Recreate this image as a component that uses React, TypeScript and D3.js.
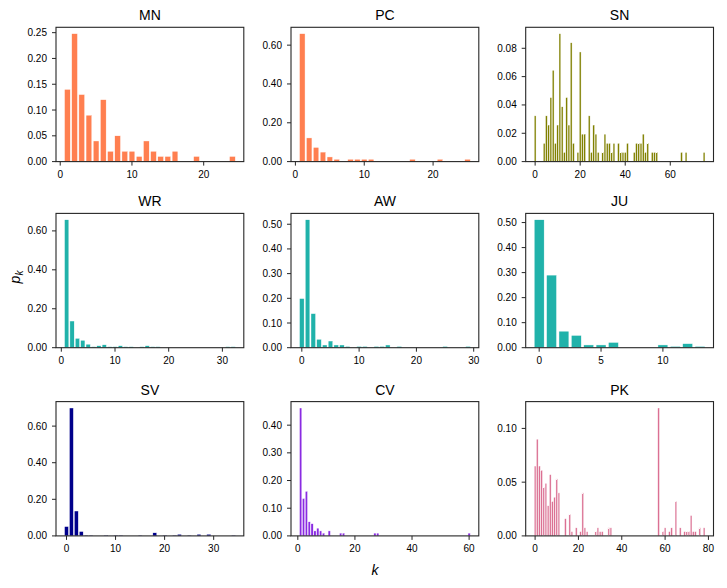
import React from "react";
import * as d3 from "d3";

// ---------- data ----------
const MN_k = [1, 2, 3, 4, 5, 6, 7, 8, 9, 10, 11, 12, 13, 14, 15, 16, 19, 24];
const MN_p = [0.14, 0.248, 0.13, 0.09, 0.04, 0.12, 0.02, 0.05, 0.02, 0.02, 0.01, 0.04, 0.02, 0.01, 0.01, 0.02, 0.01, 0.01];

const PC_k = [1, 2, 3, 4, 5, 6, 8, 9, 10, 11, 17, 21, 25];
const PC_p = [0.659, 0.122, 0.073, 0.049, 0.024, 0.012, 0.012, 0.012, 0.012, 0.012, 0.012, 0.012, 0.012];

const SN_k = [0, 4, 5, 6, 7, 8, 9, 10, 11, 12, 13, 14, 15, 16, 17, 19, 20, 21, 22, 24, 25, 26, 27, 28, 30, 31, 32, 33, 34, 35, 37, 38, 39, 40, 41, 44, 45, 46, 47, 48, 49, 50, 52, 53, 54, 65, 67, 75];
const SN_p = [0.0323, 0.0129, 0.0323, 0.0258, 0.0452, 0.0645, 0.0129, 0.0258, 0.0903, 0.0387, 0.0065, 0.0452, 0.0258, 0.0839, 0.0129, 0.0065, 0.0774, 0.0194, 0.0194, 0.0323, 0.0065, 0.0258, 0.0194, 0.0065, 0.0065, 0.0194, 0.0129, 0.0129, 0.0065, 0.0129, 0.0129, 0.0065, 0.0065, 0.0065, 0.0129, 0.0065, 0.0129, 0.0129, 0.0129, 0.0194, 0.0065, 0.0129, 0.0065, 0.0065, 0.0065, 0.0065, 0.0065, 0.0065];

const WR_k = [1, 2, 3, 4, 5, 6, 7, 8, 9, 10, 11, 12, 13, 15, 16, 17, 18, 31, 32];
const WR_p = [0.657, 0.137, 0.048, 0.038, 0.018, 0.005, 0.01, 0.015, 0.005, 0.005, 0.01, 0.005, 0.005, 0.005, 0.01, 0.005, 0.005, 0.005, 0.005];

const AW_k = [0, 1, 2, 3, 4, 5, 6, 7, 8, 10, 11, 13, 14, 15, 17, 25, 29];
const AW_p = [0.199, 0.518, 0.138, 0.034, 0.011, 0.027, 0.011, 0.011, 0.005, 0.005, 0.005, 0.005, 0.005, 0.011, 0.005, 0.005, 0.005];

const JU_k = [0, 1, 2, 3, 4, 5, 6, 10, 11, 12, 13];
const JU_p = [0.511, 0.29, 0.066, 0.049, 0.011, 0.011, 0.021, 0.011, 0.005, 0.016, 0.005];

const SV_k = [0, 1, 2, 3, 4, 5, 8, 10, 11, 15, 18, 20, 22, 23, 25, 27, 29, 34];
const SV_p = [0.051, 0.699, 0.136, 0.024, 0.004, 0.004, 0.004, 0.004, 0.004, 0.004, 0.017, 0.004, 0.004, 0.009, 0.004, 0.009, 0.009, 0.004];

const CV_k = [1, 2, 3, 4, 5, 6, 7, 8, 9, 11, 15, 16, 27, 28, 60];
const CV_p = [0.462, 0.135, 0.161, 0.051, 0.044, 0.018, 0.028, 0.018, 0.01, 0.018, 0.01, 0.01, 0.01, 0.01, 0.01];

const PK_k = [0, 1, 2, 3, 4, 5, 6, 7, 8, 9, 10, 11, 14, 16, 17, 19, 21, 22, 23, 24, 28, 29, 30, 31, 34, 35, 57, 59, 60, 62, 63, 65, 67, 69, 70, 71, 72, 73, 74, 76, 78];
const PK_p = [0.065, 0.09, 0.065, 0.061, 0.045, 0.049, 0.028, 0.057, 0.032, 0.036, 0.053, 0.04, 0.016, 0.02, 0.004, 0.0075, 0.004, 0.04, 0.0075, 0.004, 0.004, 0.0075, 0.004, 0.004, 0.0075, 0.0075, 0.119, 0.004, 0.0075, 0.004, 0.0075, 0.032, 0.0075, 0.004, 0.004, 0.004, 0.019, 0.004, 0.004, 0.0075, 0.0075];

const MN_yt = [0, 0.05, 0.1, 0.15, 0.2, 0.25];
const PC_yt = [0, 0.2, 0.4, 0.6];
const SN_yt = [0, 0.02, 0.04, 0.06, 0.08];
const WR_yt = [0, 0.2, 0.4, 0.6];
const AW_yt = [0, 0.1, 0.2, 0.3, 0.4, 0.5];
const JU_yt = [0, 0.1, 0.2, 0.3, 0.4, 0.5];
const SV_yt = [0, 0.2, 0.4, 0.6];
const CV_yt = [0, 0.1, 0.2, 0.3, 0.4];
const PK_yt = [0, 0.05, 0.1];

const MN_xt = [0, 10, 20];
const PC_xt = [0, 10, 20];
const SN_xt = [0, 20, 40, 60];
const WR_xt = [0, 10, 20, 30];
const AW_xt = [0, 10, 20, 30];
const JU_xt = [0, 5, 10];
const SV_xt = [0, 10, 20, 30];
const CV_xt = [0, 20, 40, 60];
const PK_xt = [0, 20, 40, 60, 80];

const panels = [
  { name: "MN", k: MN_k, p: MN_p, yt: MN_yt, xt: MN_xt, color: "#FF7F50" },
  { name: "PC", k: PC_k, p: PC_p, yt: PC_yt, xt: PC_xt, color: "#FF7F50" },
  { name: "SN", k: SN_k, p: SN_p, yt: SN_yt, xt: SN_xt, color: "#808000" },
  { name: "WR", k: WR_k, p: WR_p, yt: WR_yt, xt: WR_xt, color: "#20B2AA" },
  { name: "AW", k: AW_k, p: AW_p, yt: AW_yt, xt: AW_xt, color: "#20B2AA" },
  { name: "JU", k: JU_k, p: JU_p, yt: JU_yt, xt: JU_xt, color: "#20B2AA" },
  { name: "SV", k: SV_k, p: SV_p, yt: SV_yt, xt: SV_xt, color: "#00008B" },
  { name: "CV", k: CV_k, p: CV_p, yt: CV_yt, xt: CV_xt, color: "#8A2BE2" },
  { name: "PK", k: PK_k, p: PK_p, yt: PK_yt, xt: PK_xt, color: "#DB7093" },
];

// ---------- layout ----------
const W = 727;
const H = 588;
const colLeft = [56, 291, 525.7];
const rowTop = [27.3, 213.4, 401.6];
const AW_W = 187.8;
const AH = 134.3;
const BAR_W = 0.8;
const FONT = "'Liberation Sans', Arial, Helvetica, sans-serif";
const SPINE = "#262626";

function Panel({ d, x0, y0 }: any) {
  const kmin = d3.min(d.k as number[])! - BAR_W / 2;
  const kmax = d3.max(d.k as number[])! + BAR_W / 2;
  const span = kmax - kmin;
  const xs = d3.scaleLinear().domain([kmin - 0.05 * span, kmax + 0.05 * span]).range([0, AW_W]);
  const pmax = d3.max(d.p as number[])!;
  const ys = d3.scaleLinear().domain([0, pmax * 1.05]).range([AH, 0]);
  const fmt = d3.format(".2f");
  return (
    <g transform={`translate(${x0},${y0})`}>
      <text x={AW_W / 2} y={-7} textAnchor="middle" fontSize={14} fontFamily={FONT} fill="#000">
        {d.name}
      </text>
      {d.k.map((k: number, i: number) => (
        <rect
          key={i}
          x={xs(k - BAR_W / 2)}
          y={ys(d.p[i])}
          width={xs(k + BAR_W / 2) - xs(k - BAR_W / 2)}
          height={ys(0) - ys(d.p[i])}
          fill={d.color}
          stroke="#ffffff"
          strokeWidth={0.4}
        />
      ))}
      <rect x={0} y={0} width={AW_W} height={AH} fill="none" stroke={SPINE} strokeWidth={1.1} />
      {d.yt.map((t: number) => (
        <g key={"y" + t} transform={`translate(0,${ys(t)})`}>
          <line x1={-4} x2={0} stroke={SPINE} strokeWidth={1} />
          <text x={-9} y={0} dy="0.35em" textAnchor="end" fontSize={10} fontFamily={FONT} fill="#000">
            {fmt(t)}
          </text>
        </g>
      ))}
      {d.xt.map((t: number) => (
        <g key={"x" + t} transform={`translate(${xs(t)},${AH})`}>
          <line y1={0} y2={4} stroke={SPINE} strokeWidth={1} />
          <text x={0} y={16.3} textAnchor="middle" fontSize={10} fontFamily={FONT} fill="#000">
            {t}
          </text>
        </g>
      ))}
    </g>
  );
}

export default function App() {
  return (
    <div style={{ position: "absolute", left: 0, top: 0 }}>
      <svg width={W} height={H} viewBox={`0 0 ${W} ${H}`} style={{ display: "block", background: "#fff" }}>
        <rect width={W} height={H} fill="#fff" />
        {panels.map((d, i) => (
          <Panel key={d.name} d={d} x0={colLeft[i % 3]} y0={rowTop[Math.floor(i / 3)]} />
        ))}
        <text
          transform="translate(20,277) rotate(-90)"
          textAnchor="middle"
          fontSize={14}
          fontFamily={FONT}
          fontStyle="italic"
        >
          p
          <tspan fontSize={10} dy={3}>k</tspan>
        </text>
        <text x={375} y={575} textAnchor="middle" fontSize={14} fontFamily={FONT} fontStyle="italic">
          k
        </text>
      </svg>
    </div>
  );
}
